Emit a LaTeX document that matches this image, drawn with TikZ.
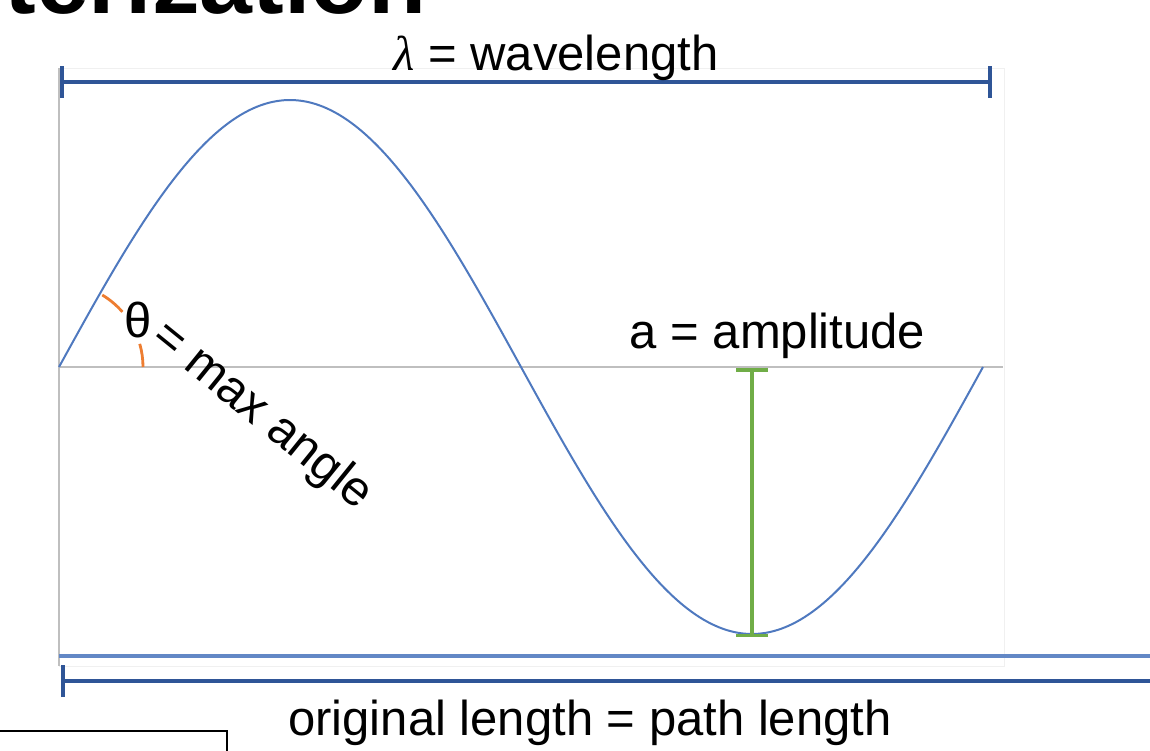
\documentclass[tikz,border=0pt]{standalone}
\usepackage{fontspec}
\setmainfont{Liberation Sans}
\newfontfamily\lambdafont{Liberation Serif}
\usetikzlibrary{arrows.meta}

\definecolor{wavblue}{HTML}{4F79BF}
\definecolor{dimblue}{HTML}{2F5597}
\definecolor{lineblue}{HTML}{6388C6}
\definecolor{ampgreen}{HTML}{70AD47}
\definecolor{arcorange}{HTML}{ED7D31}

\begin{document}
\begin{tikzpicture}[x=1pt, y=-1pt,
  lbl/.style={font=\fontsize{49}{58}\selectfont, inner sep=0pt},
  dimbar/.style={draw=dimblue, line width=4pt},
  frameline/.style={draw=gray!50, line width=1.2pt},
  anglearc/.style={draw=arcorange, line width=2.8pt}]
\useasboundingbox (0,0) rectangle (1150,750);

% Title, cut off at the top edge
\node[font=\fontsize{95}{110}\selectfont\bfseries, inner sep=0pt, anchor=base east] (title) at (427,13) {terization};

% Plot frame and axes
\draw[gray!12, line width=0.8pt] (59,68) rectangle (1004,666);
\coordinate (org) at (59,367);
\coordinate (axend) at (1003,367);
\draw[frameline] (59,68) -- (59,666);
\draw[frameline] (org) -- (axend);

% Sine wave, one full wavelength
\draw[wavblue, line width=2pt, domain=0:360, samples=120, smooth]
  plot ({59+\x/360*924}, {367-267*sin(\x)});

% Wavelength
\coordinate (wl-a) at (60,82);
\coordinate (wl-b) at (992,82);
\draw[dimbar, {Bar[width=32pt]}-{Bar[width=32pt]}] (wl-a) -- (wl-b);
\node[lbl, anchor=base] (wavelbl) at (556,70) {{\lambdafont\itshape λ} = wavelength};

% Amplitude
\coordinate (amp-top) at (752,368);
\coordinate (amp-bot) at (752,637);
\draw[ampgreen, line width=3.5pt, {Bar[width=32pt]}-{Bar[width=32pt]}] (amp-top) -- (amp-bot);
\node[lbl, anchor=base] (amplbl) at (777.5,348) {a = amplitude};

% Max angle at the start of the wave
\draw[anglearc] ([shift={(0:84)}]org) arc[start angle=0, end angle=-16, radius=84];
\draw[anglearc] ([shift={(-41:84)}]org) arc[start angle=-41, end angle=-59, radius=84];
\node[lbl, anchor=base] (theta) at (138.5,337) {θ};
\node[lbl, rotate=-39] (maxang) at (261.5,416) {= max angle};

% Path length and original length
\coordinate (pl-a) at (59,656);
\coordinate (pl-b) at (1160,656);
\draw[lineblue, line width=4pt] (pl-a) -- (pl-b);
\coordinate (ol-a) at (61,681);
\coordinate (ol-b) at (1160,681);
\draw[dimbar, {Bar[width=32pt]}-] (ol-a) -- (ol-b);
\node[lbl, anchor=base] (origlbl) at (590,735) {original length = path length};

% Box at the lower left
\draw[line width=1.3pt] (-5,731) -- (227,731) -- (227,760);

\end{tikzpicture}
\end{document}
